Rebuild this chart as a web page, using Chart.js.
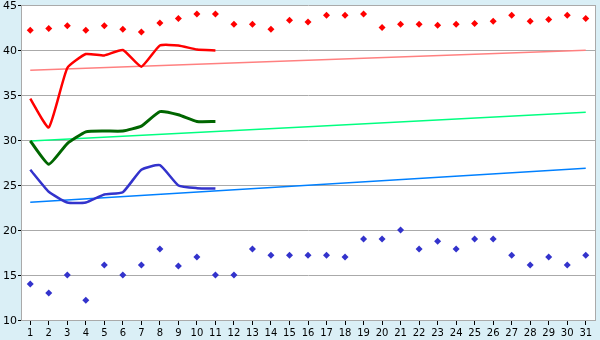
<!DOCTYPE html>
<html>
<head>
<meta charset="utf-8">
<script src="https://cdn.jsdelivr.net/npm/chart.js@4/dist/chart.umd.min.js"></script>
<style>
  html, body { margin: 0; padding: 0; background: #daeff6; }
  #wrap { width: 600px; height: 340px; }
</style>
</head>
<body>
<div id="wrap"><canvas id="chart" width="600" height="340"></canvas></div>
<script>
// categories (days)
const days = ["1","2","3","4","5","6","7","8","9","10","11","12","13","14","15","16",
  "17","18","19","20","21","22","23","24","25","26","27","28","29","30","31"];

// upper scattered points (red)
const redPoints = [42.2, 42.4, 42.7, 42.2, 42.7, 42.3, 42.0, 43.0, 43.5, 44.0, 44.0, 42.85,
  42.85, 42.3, 43.3, 43.1, 43.85, 43.85, 44.0, 42.5, 42.85, 42.85, 42.75, 42.85, 42.95,
  43.2, 43.85, 43.2, 43.4, 43.85, 43.5];

// lower scattered points (blue)
const bluePoints = [14, 13, 15, 12.2, 16.1, 15, 16.1, 17.9, 16, 17, 15, 15, 17.9, 17.2,
  17.2, 17.2, 17.2, 17, 19, 19, 20, 17.9, 18.75, 17.9, 19, 19, 17.2, 16.1, 17, 16.1, 17.2];

// lines for days 1..11
const redLine = [34.6, 31.4, 38.0, 39.55, 39.4, 40.0, 38.15, 40.5, 40.5, 40.05, 39.95];
const greenLine = [29.9, 27.3, 29.6, 30.9, 31.0, 31.0, 31.55, 33.15, 32.8, 32.05, 32.05];
const blueLine = [26.7, 24.25, 23.05, 23.05, 23.95, 24.2, 26.7, 27.2, 24.95, 24.65, 24.6];

// trend lines: start (day 1) and end (day 31)
const redTrend = [37.75, 39.97];
const greenTrend = [29.9, 33.07];
const blueTrend = [23.07, 26.85];

function trend(ends) {
  return [
    { x: days[0], y: ends[0] },
    { x: days[days.length - 1], y: ends[1] }
  ];
}

const plotBg = {
  id: "plotBg",
  beforeDraw(chart) {
    const c = chart.ctx;
    const a = chart.chartArea;
    c.save();
    c.fillStyle = "#daeff6";
    c.fillRect(0, 0, chart.width, chart.height);
    c.fillStyle = "#ffffff";
    c.fillRect(a.left, a.top, a.right - a.left, a.bottom - a.top);
    c.restore();
  },
  afterDraw(chart) {
    const c = chart.ctx;
    const a = chart.chartArea;
    c.save();
    c.strokeStyle = "#aaaaaa";
    c.lineWidth = 1;
    c.beginPath();
    c.moveTo(Math.round(a.right) + 0.5, a.top);
    c.lineTo(Math.round(a.right) + 0.5, a.bottom);
    c.stroke();
    c.restore();
  }
};

const pointDs = (label, data, color) => ({
  type: "line",
  label,
  data,
  showLine: false,
  pointStyle: "rectRot",
  pointRadius: 3.5,
  pointBackgroundColor: color,
  pointBorderColor: color,
  pointBorderWidth: 0
});

const lineDs = (label, data, color, width) => ({
  type: "line",
  label,
  data,
  borderColor: color,
  borderWidth: width,
  pointRadius: 0,
  tension: 0.15,
  fill: false
});

new Chart(document.getElementById("chart"), {
  type: "line",
  data: {
    labels: days,
    datasets: [
      pointDs("Max", redPoints, "#ff0000"),
      pointDs("Min", bluePoints, "#3333cc"),
      lineDs("Line red", redLine, "#ff0000", 2.5),
      lineDs("Line green", greenLine, "#006600", 3),
      lineDs("Line blue", blueLine, "#3333cc", 2.5),
      lineDs("Trend red", trend(redTrend), "#ff8080", 1.5),
      lineDs("Trend green", trend(greenTrend), "#00ff80", 1.5),
      lineDs("Trend blue", trend(blueTrend), "#0080ff", 1.5)
    ]
  },
  options: {
    responsive: false,
    animation: false,
    layout: { padding: { top: 5, right: 5, left: 0, bottom: 0 } },
    plugins: {
      legend: { display: false },
      tooltip: { enabled: false }
    },
    scales: {
      x: {
        offset: true,
        grid: {
          drawOnChartArea: false,
          drawTicks: true,
          tickLength: 5,
          tickColor: "#000000",
          offset: false
        },
        border: { color: "#aaaaaa" },
        ticks: {
          color: "#000000",
          padding: 2,
          maxRotation: 0,
          autoSkip: false,
          font: { family: "DejaVu Sans", size: 10 }
        },
        afterFit(scale) {
          scale.height = 20;
          scale.paddingLeft = 0;
          scale.paddingRight = 0;
        }
      },
      y: {
        min: 10,
        max: 45,
        grid: {
          color: "#aaaaaa",
          tickColor: "#000000",
          tickLength: 3
        },
        border: { color: "#aaaaaa" },
        ticks: {
          stepSize: 5,
          color: "#000000",
          padding: 1,
          labelOffset: 1,
          font: { family: "DejaVu Sans", size: 11 }
        },
        afterFit(scale) {
          scale.width = 21;
          scale.paddingTop = 0;
          scale.paddingBottom = 0;
        }
      }
    }
  },
  plugins: [plotBg]
});
</script>
</body>
</html>
